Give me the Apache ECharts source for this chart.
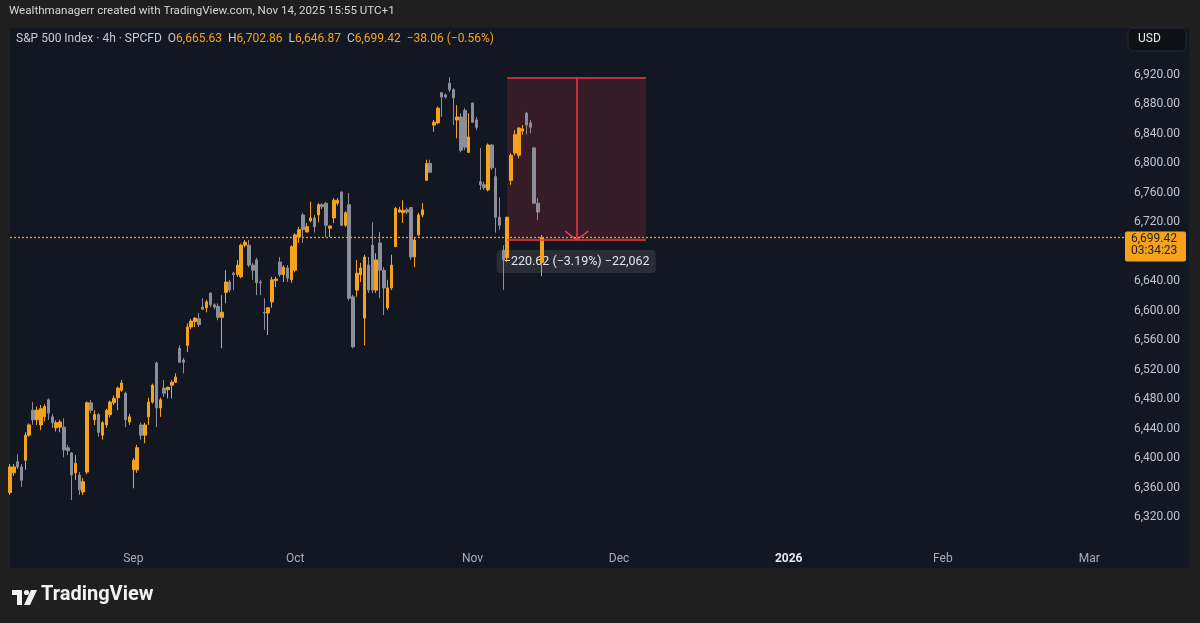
<!DOCTYPE html>
<html>
<head>
<meta charset="utf-8">
<script src="https://cdn.jsdelivr.net/npm/echarts@6/dist/echarts.min.js"></script>
<style>
  html, body { margin: 0; padding: 0; background: #1f1f1f; }
  #chart { width: 1200px; height: 623px; }
</style>
</head>
<body>
<div id="chart"></div>
<script>
const FONT = "Roboto, 'Noto Sans', sans-serif";
const UP = "#f7a21b";
const DOWN = "#8c8f99";
const RED = "#f23645";

// 4h candles, Aug -> Nov 14 2025 : [open, close, low, high]
const ohlc = [
  [6353, 6388, 6350, 6392], [6380, 6388, 6376, 6392], [6395, 6388, 6385, 6405], [6388, 6370, 6361, 6392],
  [6397, 6431, 6384, 6435], [6431, 6445, 6429, 6447], [6465, 6452, 6445, 6476], [6452, 6465, 6445, 6470],
  [6445, 6467, 6438, 6472], [6456, 6470, 6450, 6473], [6479, 6461, 6452, 6481], [6456, 6448, 6441, 6460],
  [6441, 6448, 6436, 6451], [6442, 6449, 6435, 6452], [6442, 6411, 6401, 6454], [6414, 6410, 6404, 6418],
  [6407, 6377, 6343, 6408], [6380, 6393, 6370, 6404], [6377, 6357, 6350, 6381], [6354, 6368, 6350, 6373],
  [6381, 6475, 6378, 6477], [6475, 6465, 6461, 6479], [6452, 6459, 6445, 6465], [6459, 6435, 6429, 6461],
  [6431, 6448, 6425, 6450], [6445, 6465, 6441, 6467], [6459, 6476, 6455, 6478], [6475, 6481, 6472, 6485],
  [6482, 6495, 6465, 6497], [6492, 6502, 6490, 6506], [6488, 6452, 6442, 6490], [6449, 6456, 6445, 6460],
  [6384, 6397, 6359, 6400], [6384, 6414, 6380, 6418], [6445, 6431, 6425, 6448], [6431, 6445, 6420, 6448],
  [6456, 6476, 6445, 6482], [6476, 6499, 6474, 6501], [6529, 6468, 6442, 6531], [6468, 6479, 6456, 6482],
  [6495, 6488, 6483, 6506], [6493, 6496, 6481, 6497], [6499, 6503, 6481, 6506], [6503, 6510, 6502, 6515],
  [6549, 6530, 6529, 6553], [6533, 6530, 6515, 6536], [6553, 6578, 6544, 6583], [6578, 6586, 6575, 6589],
  [6585, 6590, 6578, 6591], [6589, 6581, 6578, 6597], [6605, 6602, 6601, 6617], [6604, 6612, 6598, 6615],
  [6624, 6608, 6605, 6625], [6608, 6605, 6602, 6610], [6606, 6591, 6587, 6610], [6591, 6598, 6549, 6621],
  [6625, 6639, 6610, 6655], [6639, 6628, 6625, 6642], [6651, 6649, 6628, 6653], [6649, 6662, 6646, 6669],
  [6646, 6689, 6644, 6691], [6689, 6693, 6686, 6696], [6689, 6662, 6659, 6696], [6662, 6655, 6642, 6665],
  [6669, 6638, 6621, 6672], [6639, 6638, 6621, 6642], [6598, 6597, 6574, 6617], [6597, 6604, 6567, 6605],
  [6612, 6642, 6604, 6646], [6641, 6643, 6632, 6646], [6666, 6649, 6646, 6673], [6649, 6659, 6639, 6662],
  [6658, 6644, 6639, 6662], [6642, 6687, 6638, 6689], [6655, 6703, 6652, 6705], [6700, 6710, 6692, 6714],
  [6730, 6710, 6692, 6733], [6707, 6714, 6706, 6719], [6722, 6726, 6720, 6748], [6726, 6714, 6706, 6730],
  [6730, 6744, 6720, 6746], [6744, 6741, 6738, 6746], [6746, 6716, 6700, 6748], [6712, 6715, 6700, 6716],
  [6726, 6750, 6719, 6753], [6746, 6750, 6743, 6753], [6761, 6716, 6715, 6762], [6716, 6733, 6714, 6735],
  [6744, 6617, 6614, 6760], [6619, 6551, 6549, 6622], [6628, 6651, 6619, 6669], [6649, 6658, 6639, 6665],
  [6590, 6673, 6553, 6676], [6662, 6628, 6624, 6673], [6689, 6628, 6624, 6720], [6628, 6669, 6624, 6678],
  [6692, 6655, 6617, 6707], [6655, 6631, 6594, 6659], [6604, 6631, 6601, 6642], [6631, 6662, 6628, 6676],
  [6687, 6739, 6687, 6741], [6734, 6737, 6733, 6741], [6733, 6736, 6719, 6750], [6737, 6734, 6731, 6740],
  [6740, 6673, 6669, 6741], [6673, 6696, 6659, 6700], [6703, 6730, 6701, 6733], [6730, 6737, 6727, 6746],
  [6777, 6800, 6777, 6805], [6800, 6788, 6787, 6805], [6852, 6856, 6843, 6859], [6855, 6875, 6853, 6877],
  [6896, 6890, 6863, 6896], [6893, 6890, 6888, 6895], [6909, 6900, 6897, 6917], [6900, 6889, 6852, 6902],
  [6859, 6863, 6834, 6879], [6863, 6818, 6815, 6868], [6872, 6822, 6818, 6875], [6815, 6836, 6814, 6868],
  [6882, 6856, 6855, 6882], [6859, 6849, 6845, 6863], [6775, 6771, 6764, 6821], [6771, 6767, 6764, 6775],
  [6764, 6825, 6762, 6827], [6825, 6794, 6791, 6826], [6782, 6727, 6706, 6794], [6727, 6716, 6710, 6754],
  [6682, 6669, 6628, 6689], [6672, 6727, 6666, 6727], [6777, 6811, 6771, 6814], [6814, 6839, 6811, 6845],
  [6811, 6848, 6807, 6849], [6844, 6847, 6839, 6852], [6868, 6852, 6839, 6870], [6855, 6849, 6841, 6859],
  [6821, 6746, 6745, 6822], [6746, 6734, 6723, 6753], [6665.63, 6699.42, 6646.87, 6702.86],
];

// time axis: bar slots incl. projected future bars, month labels at first bar of month
const slotCount = 290;
const monthIndex = [32, 74, 120, 158, 202, 242, 280];
const monthLabels = ["Sep", "Oct", "Nov", "Dec", "2026", "Feb", "Mar"];

// price scale
const priceMin = 6280;
const priceMax = 7000;
const priceStep = 40;
const labelMin = 6320;
const labelMax = 6920;
const lastPrice = 6699.42;
const countdown = "03:34:23";

// price range measurement drawing
const measureFrom = 129;
const measureTo = 165;
const measureMid = 147;
const measureTop = 6916.6;
const measureBottom = 6696.0;
const measureText = "\u2212220.62 (\u22123.19%) \u221222,062";

const categories = Array.from({ length: slotCount }, (_, i) => String(i));
const fmt = (v) => v.toLocaleString("en-US", { minimumFractionDigits: 2, maximumFractionDigits: 2 });

const chart = echarts.init(document.getElementById("chart"));

chart.setOption({
  backgroundColor: "#1f1f1f",
  animation: false,
  textStyle: { fontFamily: FONT },
  grid: { left: 8, right: 74, top: 16.07, bottom: 76.53 },
  xAxis: {
    type: "category",
    data: categories,
    boundaryGap: true,
    axisLine: { show: false },
    axisTick: { show: false },
    splitLine: { show: false },
    axisLabel: {
      interval: (i) => monthIndex.includes(i),
      formatter: (v) => {
        const k = monthIndex.indexOf(Number(v));
        if (k < 0) return "";
        return monthLabels[k] === "2026" ? "{y|2026}" : monthLabels[k];
      },
      color: "#a9acb5",
      fontSize: 12,
      fontFamily: FONT,
      margin: 7,
      rich: { y: { color: "#e6e8ee", fontWeight: "bold", fontSize: 12, fontFamily: FONT } },
    },
  },
  yAxis: {
    type: "value",
    position: "right",
    min: priceMin,
    max: priceMax,
    interval: priceStep,
    axisLine: { show: false },
    axisTick: { show: false },
    splitLine: { show: false },
    axisLabel: {
      formatter: (v) => (v < labelMin || v > labelMax ? "" : fmt(v)),
      color: "#c3c6ce",
      fontSize: 12,
      fontFamily: FONT,
      margin: 8,
    },
  },
  series: [
    {
      type: "candlestick",
      data: ohlc,
      barWidth: 3,
      itemStyle: { color: UP, color0: DOWN, borderColor: UP, borderColor0: DOWN, borderWidth: 1 },
      markArea: {
        silent: true,
        itemStyle: { color: "rgba(242,54,69,0.16)" },
        data: [[
          { coord: [String(measureFrom), measureTop] },
          { coord: [String(measureTo), measureBottom] },
        ]],
      },
      markLine: {
        silent: true,
        symbol: ["none", "none"],
        label: { show: false },
        lineStyle: { color: RED, width: 1.5, type: "solid" },
        data: [
          [{ coord: [String(measureFrom), measureTop] }, { coord: [String(measureTo), measureTop] }],
          [{ coord: [String(measureFrom), measureBottom] }, { coord: [String(measureTo), measureBottom] }],
          [{ coord: [String(measureMid), measureTop] }, { coord: [String(measureMid), measureBottom] }],
          [{ coord: [String(measureMid - 3), measureBottom + 12] }, { coord: [String(measureMid), measureBottom] }],
          [{ coord: [String(measureMid + 3), measureBottom + 12] }, { coord: [String(measureMid), measureBottom] }],
        ],
      },
    },
  ],
});

// overlay: pane, header, legend, last price line + tag, measurement label
const yLast = chart.convertToPixel({ yAxisIndex: 0 }, lastPrice);
const [xMid, yBottom] = chart.convertToPixel({ gridIndex: 0 }, [String(measureMid), measureBottom]);
const yDot = Math.floor(yLast) + 0.5;

chart.setOption({
  graphic: [
    { type: "rect", z: -10, shape: { x: 10, y: 28, width: 1179, height: 540 }, style: { fill: "#131722" } },
    {
      type: "text", left: 9, top: 5,
      style: { text: "Wealthmanagerr created with TradingView.com, Nov 14, 2025 15:55 UTC+1", fill: "#d6d6d6", font: "11.6px " + FONT },
    },
    {
      type: "text", left: 16, top: 33,
      style: {
        text: "{g|S&P 500 Index · 4h · SPCFD  O}{o|6,665.63}{g|  H}{o|6,702.86}{g|  L}{o|6,646.87}{g|  C}{o|6,699.42}{o|  \u221238.06 (\u22120.56%)}",
        font: "12px " + FONT,
        rich: {
          g: { fill: "#c8cad0", fontSize: 12, fontFamily: FONT },
          o: { fill: UP, fontSize: 12, fontFamily: FONT },
        },
      },
    },
    { type: "rect", shape: { x: 1128, y: 28, width: 58, height: 23, r: 5 }, style: { fill: "#0e1016", stroke: "#262a33", lineWidth: 1 } },
    { type: "text", left: 1138, top: 33, style: { text: "USD", fill: "#e6e8ee", font: "12px " + FONT } },
    // last price dotted line
    {
      type: "line", z: 5, silent: true,
      shape: { x1: 10, y1: yDot, x2: 1125, y2: yDot },
      style: { stroke: "#ff9f0f", lineWidth: 1.3, lineDash: [2, 2] },
    },
    // price tag
    { type: "rect", z: 10, shape: { x: 1125, y: yLast - 6, width: 61, height: 30, r: 2 }, style: { fill: UP } },
    { type: "text", z: 11, x: 1131, y: yLast + 1.5, style: { text: fmt(lastPrice), fill: "#1e222d", font: "12px " + FONT, verticalAlign: "middle" } },
    { type: "text", z: 11, x: 1131, y: yLast + 13.5, style: { text: countdown, fill: "#1e222d", font: "12px " + FONT, verticalAlign: "middle" } },
    // measurement label
    { type: "rect", z: 1, shape: { x: xMid - 80, y: yBottom + 10, width: 159, height: 23, r: 4 }, style: { fill: "rgba(44,47,56,0.92)" } },
    {
      type: "text", z: 1, x: xMid, y: yBottom + 21.5,
      style: { text: measureText, fill: "#e3e5ea", font: "12.5px " + FONT, align: "center", verticalAlign: "middle" },
    },
    // footer logo
    { type: "polygon", shape: { points: [[12, 590], [22, 590], [22, 605], [17, 605], [17, 595], [12, 595]] }, style: { fill: "#f2f2f2" } },
    { type: "circle", shape: { cx: 26.5, cy: 592.5, r: 2.6 }, style: { fill: "#f2f2f2" } },
    { type: "polygon", shape: { points: [[31, 590], [37, 590], [30, 605], [24, 605]] }, style: { fill: "#f2f2f2" } },
    { type: "text", left: 41, top: 585, style: { text: "TradingView", fill: "#f2f2f2", font: "bold 20px " + FONT } },
  ],
});
</script>
</body>
</html>
